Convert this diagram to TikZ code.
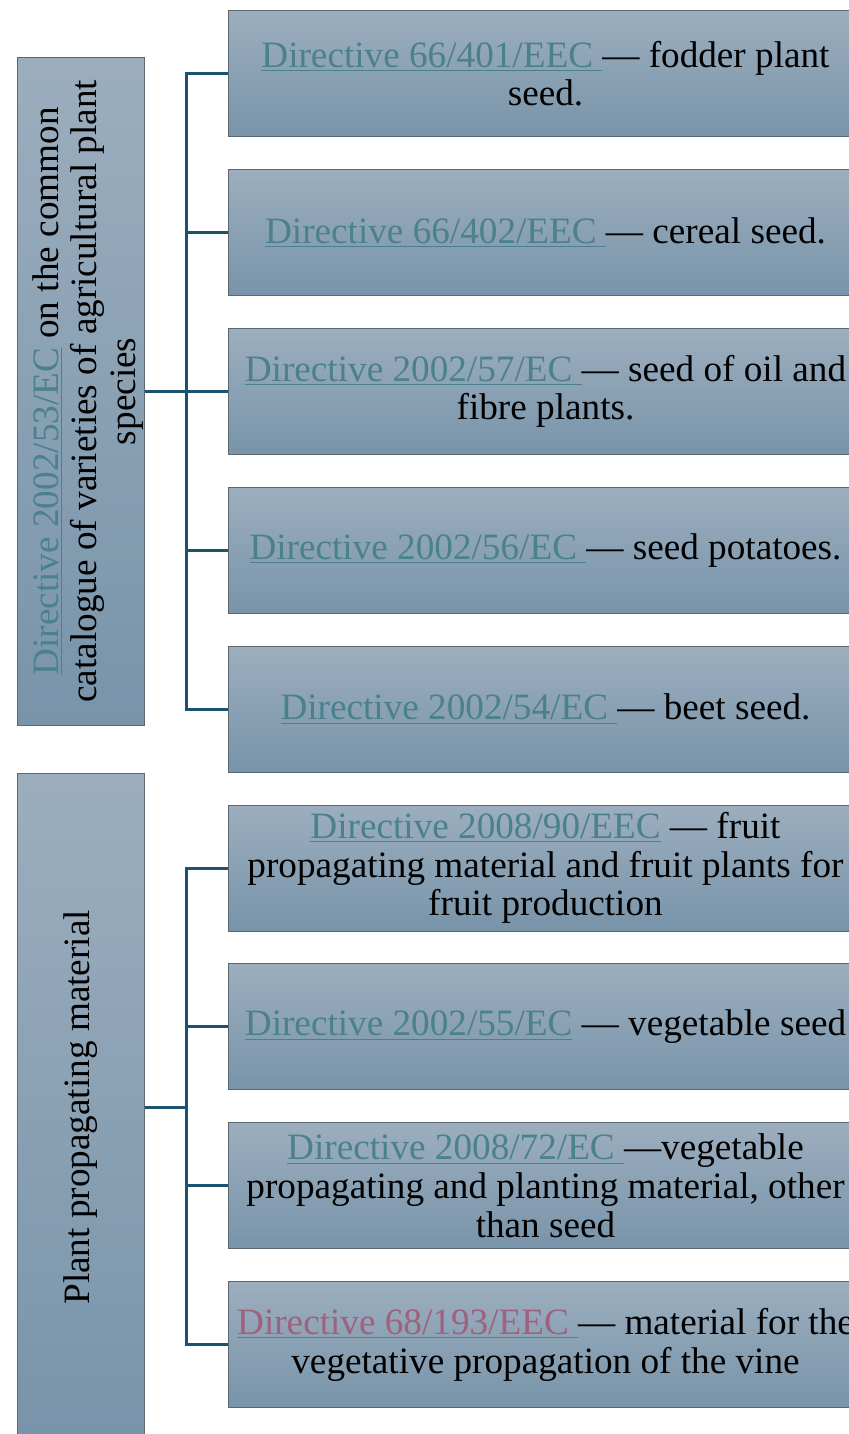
\documentclass[tikz,border=0pt]{standalone}
\usepackage{fontspec}
\setmainfont{Liberation Serif}
\usepackage{tikz}
\usetikzlibrary{positioning}

\definecolor{boxTop}{HTML}{9CAEBE}
\definecolor{boxBottom}{HTML}{7894AA}
\definecolor{boxLine}{HTML}{5C6870}
\definecolor{branchBlue}{HTML}{1B5270}
\definecolor{linkTeal}{HTML}{4A818C}
\definecolor{linkVisited}{HTML}{A0607E}

\newcommand{\dlink}[1]{{\color{linkTeal}\underline{#1}}}
\newcommand{\vlink}[1]{{\color{linkVisited}\underline{#1}}}

\begin{document}
\begin{tikzpicture}[x=0.5pt,y=-0.5pt,
    directive/.style={draw=boxLine, line width=0.5pt, top color=boxTop, bottom color=boxBottom,
        minimum width=317pt, minimum height=63pt, align=center, inner sep=1pt,
        font=\fontsize{18.6}{19.3}\selectfont},
    group/.style={draw=boxLine, line width=0.5pt, top color=boxTop, bottom color=boxBottom,
        minimum width=63.5pt, minimum height=334pt},
    grouptext/.style={rotate=90, align=center, font=\fontsize{18.6}{19.3}\selectfont},
    branch/.style={draw=branchBlue, line width=1.5pt},
    node distance=15.95pt]
    \useasboundingbox (0,0) rectangle (849,1434);

    % directives
    \node[directive, anchor=north west] (d1) at (228,10)
        {\dlink{Directive 66/401/EEC }— fodder plant\\ seed.};
    \node[directive, below=of d1] (d2) {\dlink{Directive 66/402/EEC }— cereal seed.};
    \node[directive, below=of d2] (d3)
        {\dlink{Directive 2002/57/EC }— seed of oil and\\ fibre plants.};
    \node[directive, below=of d3] (d4) {\dlink{Directive 2002/56/EC }— seed potatoes.};
    \node[directive, below=of d4] (d5) {\dlink{Directive 2002/54/EC }— beet seed.};
    \node[directive, below=of d5] (d6)
        {\dlink{Directive 2008/90/EEC} — fruit\\ propagating material and fruit plants for\\ fruit production};
    \node[directive, below=of d6] (d7) {\dlink{Directive 2002/55/EC} — vegetable seed};
    \node[directive, below=of d7] (d8)
        {\dlink{Directive 2008/72/EC }—vegetable\\ propagating and planting material, other\\ than seed};
    \node[directive, below=of d8] (d9)
        {\vlink{Directive 68/193/EEC }— material for the\\ vegetative propagation of the vine};

    % groups
    \node[group, left=41.5pt of d3] (g1) {};
    \node[grouptext] (t1) at ([xshift=3.5pt]g1.center)
        {\dlink{Directive 2002/53/EC} on the common\\ catalogue of varieties of agricultural plant\\ species};
    \node[group, below=23.5pt of g1] (g2) {};
    \node[grouptext] (t2) at (g2) {Plant propagating material};

    % branches
    \draw[branch] (g1.east) -- ++(20.5pt,0) coordinate (bus1);
    \foreach \i in {1,...,5}
        \draw[branch] (bus1) |- (d\i.west);
    \draw[branch] (g2.east) -- ++(20.5pt,0) coordinate (bus2);
    \foreach \i in {6,...,9}
        \draw[branch] (bus2) |- (d\i.west);
\end{tikzpicture}
\end{document}
